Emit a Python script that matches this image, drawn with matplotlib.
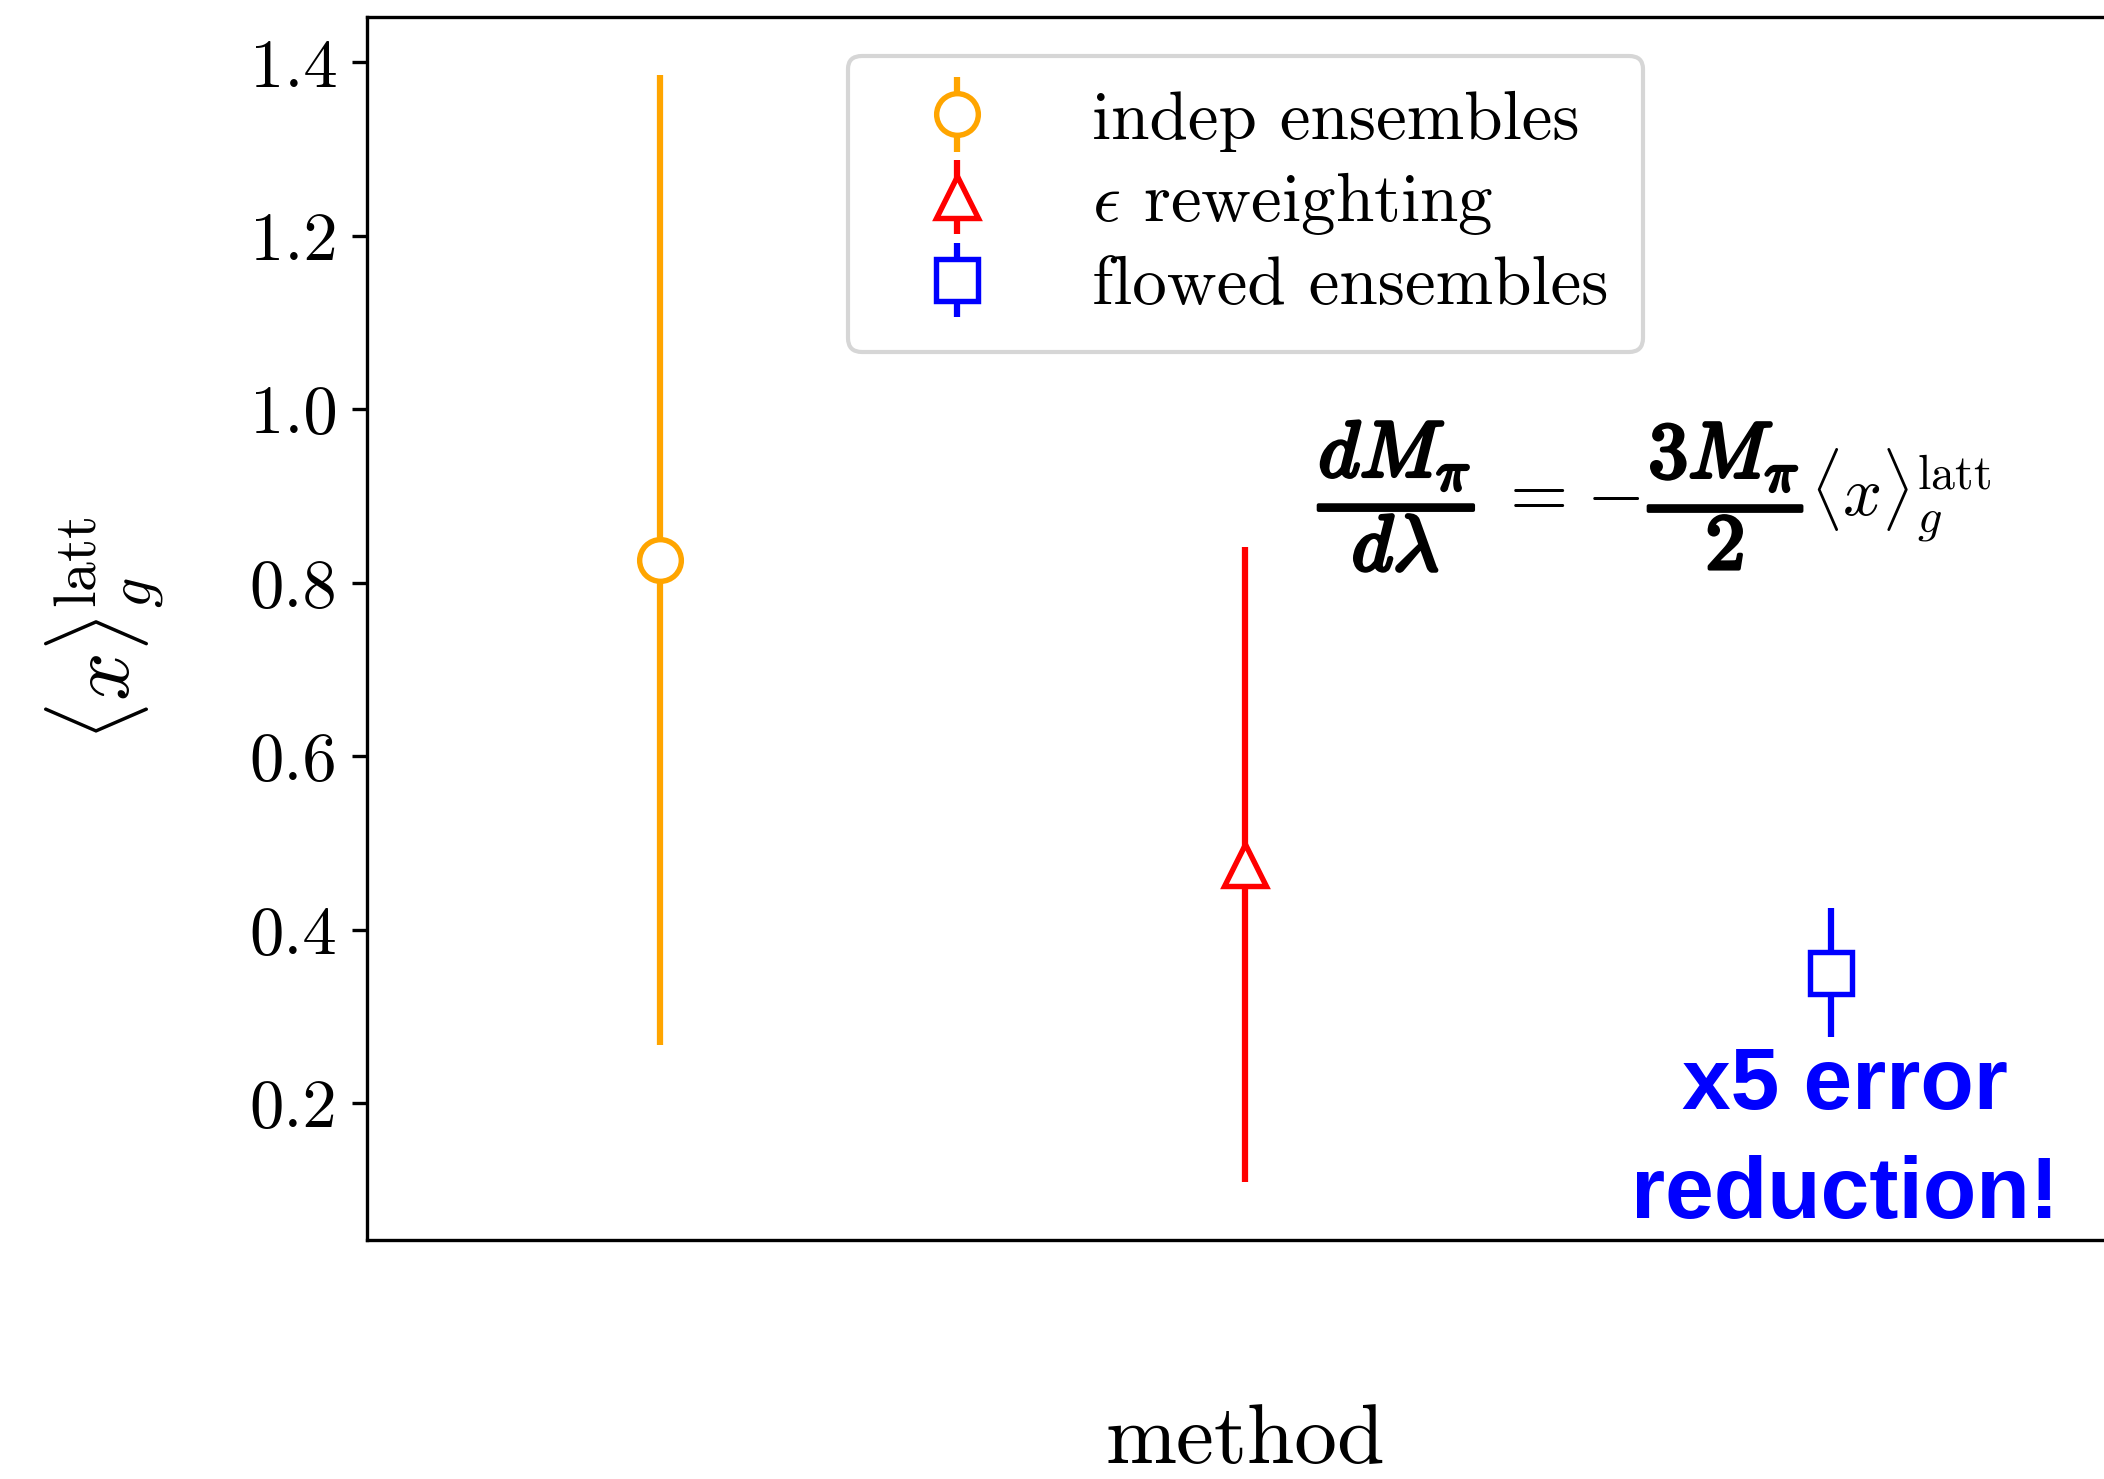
import matplotlib
matplotlib.use("Agg")
import matplotlib.pyplot as plt
import matplotlib.patheffects as pe
from matplotlib.container import ErrorbarContainer
from matplotlib.legend_handler import HandlerErrorbar

plt.rcParams['font.family'] = 'serif'
plt.rcParams['font.serif'] = ['cmr10']
plt.rcParams['mathtext.fontset'] = 'cm'
plt.rcParams['axes.formatter.use_mathtext'] = True

# data
methods = ['indep ensembles', r'$\epsilon$ reweighting', 'flowed ensembles']
xpos = [0, 1, 2]
values = [0.826, 0.475, 0.3505]
errors = [0.559, 0.366, 0.0743]
colors = ['orange', 'red', 'blue']
markers = ['o', '^', 's']
yticks = [0.2, 0.4, 0.6, 0.8, 1.0, 1.2, 1.4]

fig = plt.figure(figsize=(2104/300, 1479/300), dpi=300)
ax = fig.add_axes([0.1743, 0.1616, 0.8352, 0.8267])

for x, v, e, c, m, lab in zip(xpos, values, errors, colors, markers, methods):
    ax.errorbar([x], [v], yerr=[e], fmt=m, color=c, mfc='white', mec=c,
                ms=10, mew=1.3, elinewidth=1.5, capsize=0, label=lab)

ax.set_xlim(-0.5, 2.5)
ax.set_ylim(0.0424, 1.452)
ax.set_xticks([])
ax.set_yticks(yticks)
ax.set_yticklabels([f'{t:.1f}' for t in yticks])
ax.tick_params(axis='y', labelsize=16.5)

ax.set_xlabel('method', fontsize=20.5, labelpad=39.5)
ax.set_ylabel(r'$\langle x\rangle_g^{\rm latt}$', fontsize=20.5, labelpad=20)

leg = ax.legend(loc='upper center', fontsize=16.6, numpoints=1,
                labelspacing=0.27, borderpad=0.5, handlelength=2.16,
                handletextpad=0.87, bbox_to_anchor=(0.5, 0.997),
                handler_map={ErrorbarContainer: HandlerErrorbar(xerr_size=0.54)})

# formula, built from chained pieces
bold = [pe.withStroke(linewidth=0.9, foreground='black')]
t1 = ax.text(1.125, 0.900, r'$\dfrac{dM_\pi}{d\lambda}$', fontsize=19,
             ha='left', va='center', path_effects=bold)
t2 = ax.annotate(r'$=$', xy=(1, 0.5), xycoords=t1, xytext=(5, 0),
                 textcoords='offset points', fontsize=18, ha='left', va='center')
t3 = ax.annotate(r'$-$', xy=(1, 0.5), xycoords=t2, xytext=(5, 0),
                 textcoords='offset points', fontsize=18, ha='left', va='center')
t4 = ax.annotate(r'$\dfrac{3M_\pi}{2}$', xy=(1, 0.5), xycoords=t3, xytext=(2, 0),
                 textcoords='offset points', fontsize=19, ha='left', va='center',
                 path_effects=bold)
t5 = ax.annotate(r'$\langle x\rangle_g^{\rm latt}$', xy=(1, 0.5), xycoords=t4,
                 xytext=(1.5, 0), textcoords='offset points', fontsize=16.5,
                 ha='left', va='center')

ax.text(2.024, 0.068, 'x5 error\nreduction!', fontsize=21, fontweight='bold',
        family='Liberation Sans', color='blue', ha='center', va='baseline',
        linespacing=1.44)

fig.savefig('out.png', dpi=300)
